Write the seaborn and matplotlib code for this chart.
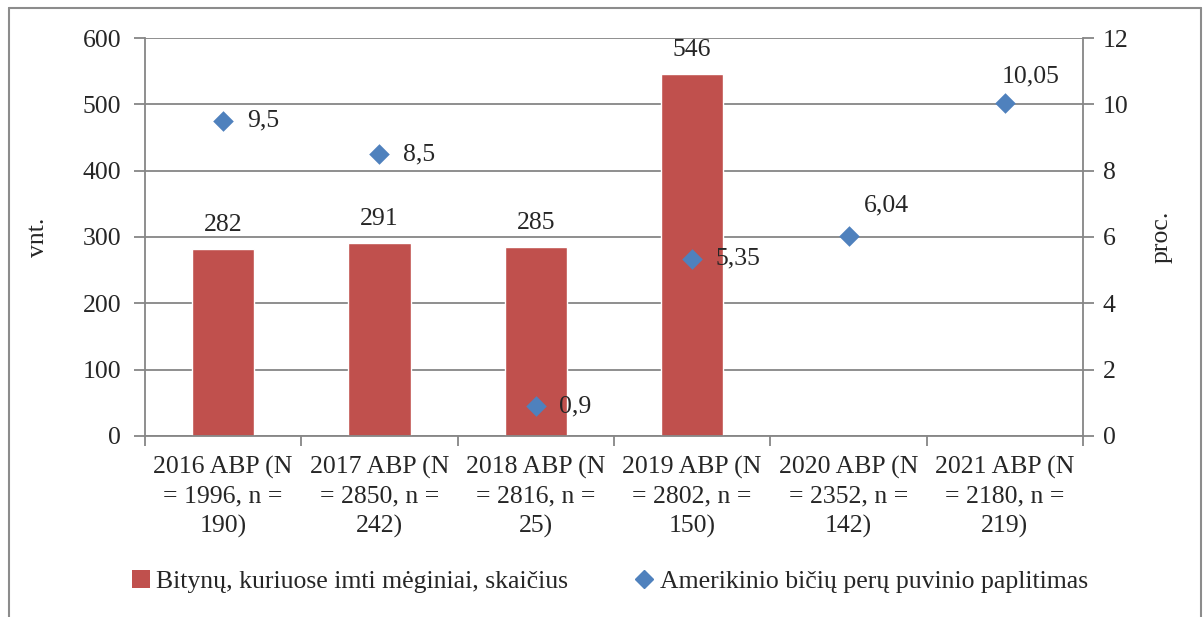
import matplotlib
matplotlib.use('Agg')
import matplotlib.pyplot as plt
from matplotlib.lines import Line2D
from matplotlib.patches import Patch
from matplotlib.ticker import FixedLocator, NullFormatter
import numpy as np
import pandas as pd
import seaborn as sns

# data
categories = ['2016 ABP (N\n= 1996, n =\n190)',
              '2017 ABP (N\n= 2850, n =\n242)',
              '2018 ABP (N\n= 2816, n =\n25)',
              '2019 ABP (N\n= 2802, n =\n150)',
              '2020 ABP (N\n= 2352, n =\n142)',
              '2021 ABP (N\n= 2180, n =\n219)']
apiaries = [282, 291, 285, 546, np.nan, np.nan]
prevalence = [9.5, 8.5, 0.9, 5.35, 6.04, 10.05]
prevalence_labels = ['9,5', '8,5', '0,9', '5,35', '6,04', '10,05']
# label offsets in points (Excel placed most to the right, two moved by hand)
label_offsets = [(17, 0), (17, 0), (17, 0), (17, 0), (11, 22), (-2, 19)]

bar_name = 'Bitynų, kuriuose imti mėginiai, skaičius'
point_name = 'Amerikinio bičių perų puvinio paplitimas'

red = '#C0504D'
blue = '#4F81BD'
grid_col = '#868686'
fs = 18.5

sns.set_theme(style='white')
plt.rcParams['font.family'] = ['Liberation Serif', 'DejaVu Serif']
plt.rcParams['font.size'] = fs

df = pd.DataFrame({'cat': categories, 'n': apiaries})

fig, ax = plt.subplots(figsize=(12.03, 6.17), dpi=100)
fig.subplots_adjust(left=0.1205, right=0.9003, top=0.9384, bottom=0.2934)

sns.barplot(data=df, x='cat', y='n', order=categories, color=red,
            width=0.4, saturation=1, ax=ax, zorder=2)
for c in ax.containers:
    ax.bar_label(c, fmt='%d', padding=9, fontsize=fs)

ax.set_ylim(0, 600)
ax.set_xlim(-0.5, len(categories) - 0.5)
ax.set_yticks(range(0, 601, 100))
ax.yaxis.grid(True, color=grid_col, linewidth=1.3, zorder=0)
ax.set_axisbelow(True)
ax.set_xlabel('')
ax.set_ylabel('vnt.', fontsize=fs, labelpad=24)
ax.tick_params(axis='y', which='major', length=8, width=1.3, color=grid_col,
               labelsize=fs, pad=9, left=True)
ax.tick_params(axis='x', which='major', length=0, labelsize=fs, pad=14)
ax.xaxis.set_minor_locator(FixedLocator(np.arange(-0.5, len(categories), 1)))
ax.xaxis.set_minor_formatter(NullFormatter())
ax.tick_params(axis='x', which='minor', length=7, width=1.3, color=grid_col,
               bottom=True)
for lbl in ax.get_xticklabels():
    lbl.set_multialignment('center')
    lbl.set_linespacing(1.42)
for s in ['left', 'bottom', 'right']:
    ax.spines[s].set_color(grid_col)
    ax.spines[s].set_linewidth(1.3)
ax.spines['top'].set_visible(False)

ax2 = ax.twinx()
xpos = np.arange(len(categories))
sns.scatterplot(x=xpos, y=prevalence, marker='D', s=110, color=blue,
                edgecolor=blue, linewidth=0, ax=ax2, zorder=3)
ax2.set_ylim(0, 12)
ax2.set_yticks(range(0, 13, 2))
ax2.set_ylabel('proc.', fontsize=fs, labelpad=16)
ax2.tick_params(axis='y', length=8, width=1.3, color=grid_col, labelsize=fs,
                pad=6, right=True)
for s in ['left', 'bottom', 'right', 'top']:
    ax2.spines[s].set_visible(False)
for x, y, t, off in zip(xpos, prevalence, prevalence_labels, label_offsets):
    ax2.annotate(t, (x, y), xytext=off, textcoords='offset points',
                 ha='left', va='center', fontsize=fs)

handles = [Patch(facecolor=red, edgecolor='none'),
           Line2D([], [], marker='D', linestyle='none', color=blue,
                  markersize=9)]
fig.legend(handles, [bar_name, point_name], loc='center',
           bbox_to_anchor=(0.507, 0.058), ncol=2, frameon=False,
           fontsize=fs, handlelength=0.7, handletextpad=0.25,
           columnspacing=2.6)

# outer chart border
for xs, ys in [([0.0075, 0.0075], [0.0, 0.987]),
               ([0.0075, 0.998], [0.987, 0.987]),
               ([0.998, 0.998], [0.987, 0.0])]:
    fig.add_artist(Line2D(xs, ys, transform=fig.transFigure,
                          color='#8c8c8c', linewidth=1.5))

fig.savefig('out.png', dpi=100)
